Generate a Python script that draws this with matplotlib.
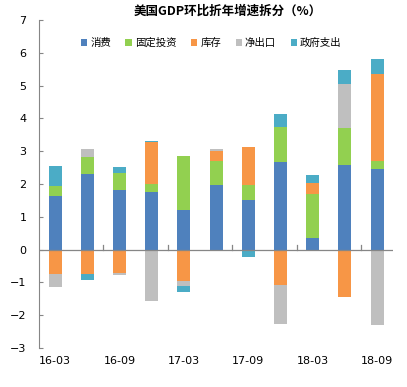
import matplotlib
matplotlib.use('Agg')
import matplotlib.pyplot as plt
import numpy as np

plt.rcParams['font.family'] = ['Noto Sans CJK SC', 'DejaVu Sans']

# ── DATA ─────────────────────────────────────────────────────────────────────
quarters = ["16-03", "16-06", "16-09", "16-12", "17-03", "17-06",
            "17-09", "17-12", "18-03", "18-06", "18-09"]
consumption = [1.64, 2.30, 1.81, 1.75, 1.20, 1.96, 1.51, 2.67, 0.35, 2.57, 2.45]
investment  = [0.30, 0.51, 0.52, 0.26, 1.65, 0.74, 0.45, 1.07, 1.34, 1.13, 0.24]
inventory   = [-0.73, -0.74, -0.71, 1.26, -0.95, 0.31, 1.16, -1.07, 0.34, -1.46, 2.68]
net_exports = [-0.42, 0.27, -0.07, -1.58, -0.17, 0.05, 0.00, -1.19, -0.02, 1.34, -2.29]
government  = [0.60, -0.18, 0.19, 0.03, -0.16, 0.00, -0.23, 0.39, 0.24, 0.43, 0.44]

series_names = ["消费", "固定投资", "库存", "净出口", "政府支出"]
series_vals = [consumption, investment, inventory, net_exports, government]
series_colors = ["#4F81BD", "#92D050", "#F79646", "#BFBFBF", "#4BACC6"]

# ── FIGURE ───────────────────────────────────────────────────────────────────
fig = plt.figure(figsize=(4.07, 3.87), dpi=100)
fig.patch.set_facecolor("white")
ax = fig.add_axes([0.096, 0.101, 0.870, 0.847])

x = np.arange(len(quarters))
pos_base = np.zeros(len(quarters))
neg_base = np.zeros(len(quarters))
for name, vals, col in zip(series_names, series_vals, series_colors):
    v = np.array(vals)
    bottom = np.where(v >= 0, pos_base, neg_base)
    ax.bar(x, v, 0.4, bottom=bottom, color=col, label=name, zorder=2)
    pos_base += np.where(v >= 0, v, 0)
    neg_base += np.where(v < 0, v, 0)

ax.set_xlim(-0.5, len(quarters) - 0.5)
ax.set_ylim(-3, 7)
ax.set_yticks(range(-3, 8))

# zero line with small tick marks every two categories
axis_col = "#868686"
ax.axhline(0, color=axis_col, linewidth=0.9, zorder=3)
for b in np.arange(1.5, len(quarters) - 0.5, 2):
    ax.plot([b, b], [0, 0.13], color=axis_col, linewidth=0.9, zorder=3)

ax.set_xticks(x[::2])
ax.set_xticklabels(quarters[::2], fontsize=8, family="DejaVu Sans")
ax.tick_params(axis="x", length=0, pad=6)
ax.tick_params(axis="y", direction="in", length=3, color=axis_col,
               labelsize=8, pad=9)
for lab in ax.get_yticklabels():
    lab.set_family("DejaVu Sans")

for s in ["top", "right", "bottom"]:
    ax.spines[s].set_visible(False)
ax.spines["left"].set_color(axis_col)

leg = ax.legend(loc="center", bbox_to_anchor=(0.486, 0.93), ncol=5,
                frameon=False, fontsize=7.5, handlelength=0.6,
                handleheight=0.6, handletextpad=0.3, columnspacing=1.4)

fig.text(0.56, 0.972, "美国GDP环比折年增速拆分（%）", ha="center", va="center",
         fontsize=9, fontweight="bold")

fig.savefig("out.png", dpi=100)
